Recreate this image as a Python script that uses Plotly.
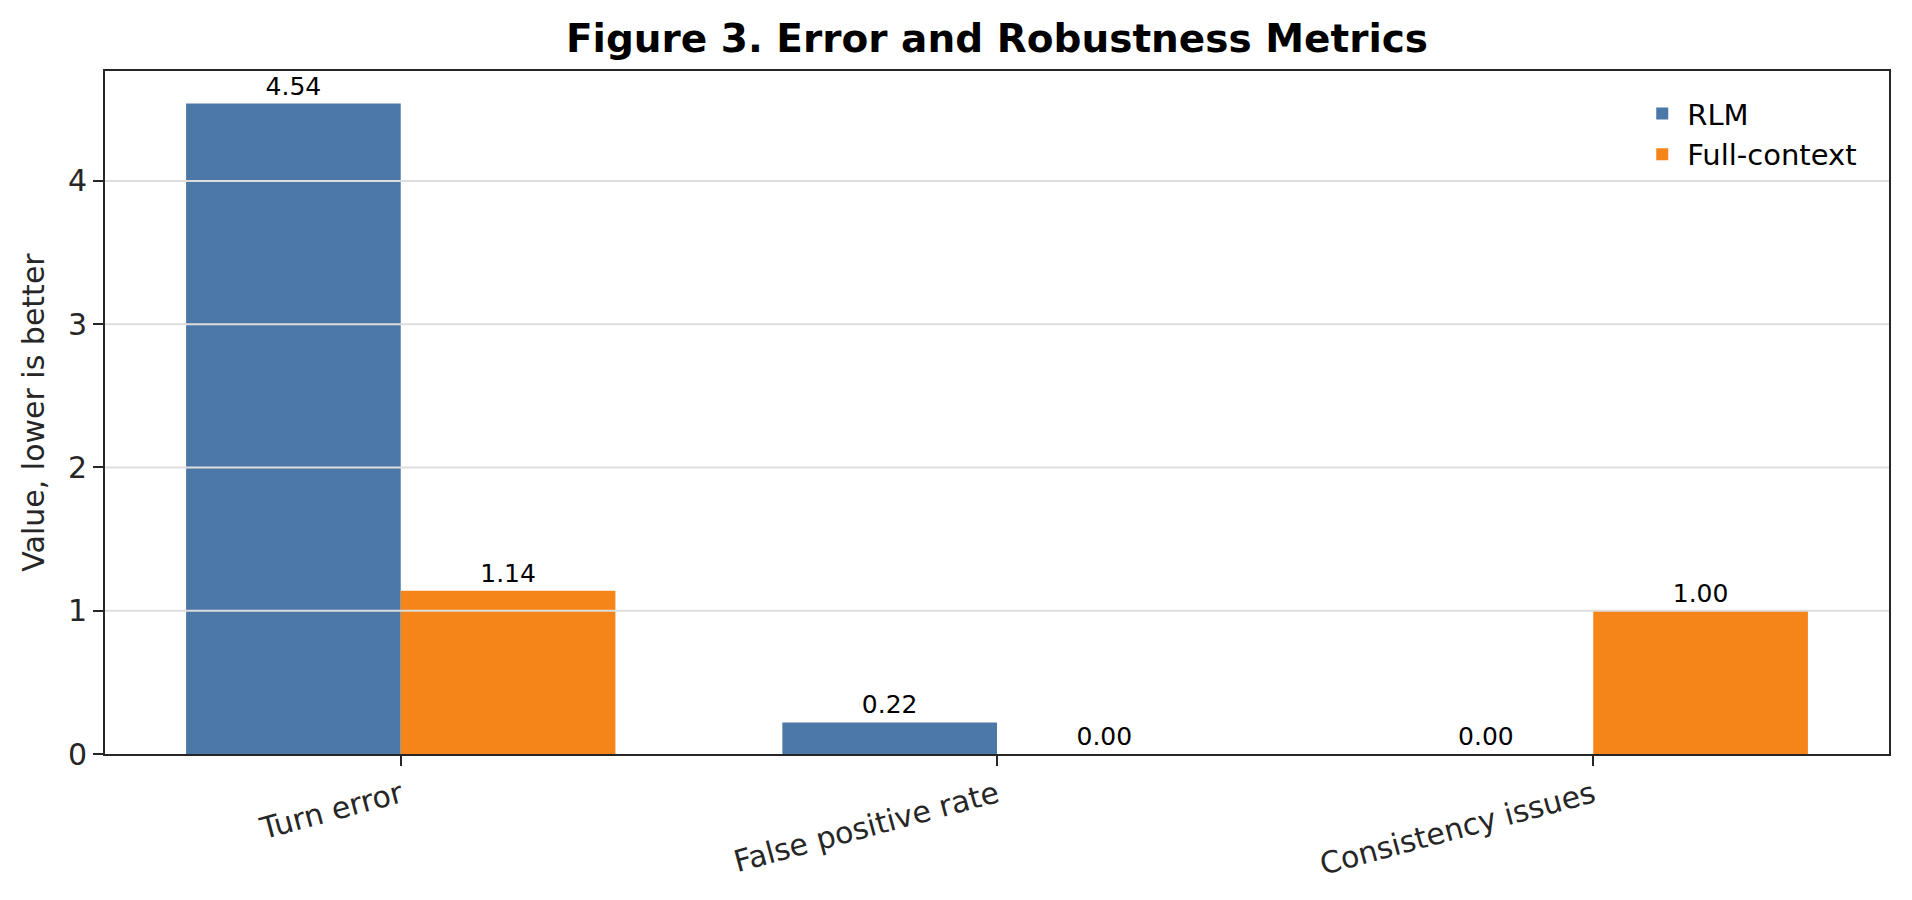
import plotly.graph_objects as go

categories = ["Turn error", "False positive rate", "Consistency issues"]
rlm_values = [4.54, 0.22, 0.00]
full_context_values = [1.14, 0.00, 1.00]
y_ticks = [0, 1, 2, 3, 4]

BLUE = "#4C78A8"
ORANGE = "#F58518"
AXIS = "#262626"
FONT = "DejaVu Sans"

fig = go.Figure()
fig.add_trace(go.Bar(
    x=categories, y=rlm_values, name="RLM", marker_color=BLUE,
    marker_line_width=0, texttemplate="%{y:.2f}", textposition="outside",
    textfont=dict(size=25, color="black", family=FONT), cliponaxis=False,
))
fig.add_trace(go.Bar(
    x=categories, y=full_context_values, name="Full-context", marker_color=ORANGE,
    marker_line_width=0, texttemplate="%{y:.2f}", textposition="outside",
    textfont=dict(size=25, color="black", family=FONT), cliponaxis=False,
))

ymax = max(max(rlm_values), max(full_context_values)) * 1.05

# gridlines drawn above bars (as in the reference)
for t in y_ticks[1:]:
    fig.add_shape(type="line", xref="paper", yref="y", x0=0, x1=1, y0=t, y1=t,
                  line=dict(color="#dddddd", width=2), layer="above")

fig.update_layout(
    width=1912, height=900, autosize=False,
    margin=dict(l=105, r=23, t=71, b=146),
    paper_bgcolor="white", plot_bgcolor="white",
    barmode="group", bargap=0.28, bargroupgap=0,
    font=dict(family=FONT, color=AXIS, size=30),
    title=dict(text="<b>Figure 3. Error and Robustness Metrics</b>",
               font=dict(family=FONT, size=39, color="black"),
               x=0.5, xref="paper", xanchor="center", y=0.957, yanchor="middle"),
    legend=dict(x=0.985, y=0.975, xanchor="right", yanchor="top",
                bgcolor="rgba(0,0,0,0)", font=dict(size=29, color="black"),
                itemwidth=40, tracegroupgap=4),
    showlegend=True,
)
fig.update_xaxes(
    type="category", range=[-0.496, 2.496], tickangle=-15,
    showline=True, mirror=True, linecolor=AXIS, linewidth=2,
    ticks="outside", ticklen=10, tickwidth=2, tickcolor=AXIS,
    showgrid=False, tickfont=dict(size=30, color=AXIS),
)
fig.update_yaxes(
    range=[0, ymax], tickvals=y_ticks,
    showline=True, mirror=True, linecolor=AXIS, linewidth=2,
    ticks="outside", ticklen=10, tickwidth=2, tickcolor=AXIS,
    showgrid=False, zeroline=False, tickfont=dict(size=30, color=AXIS),
    title=dict(text="Value, lower is better", font=dict(size=30, color=AXIS), standoff=14),
)

fig.write_html("out.html")
